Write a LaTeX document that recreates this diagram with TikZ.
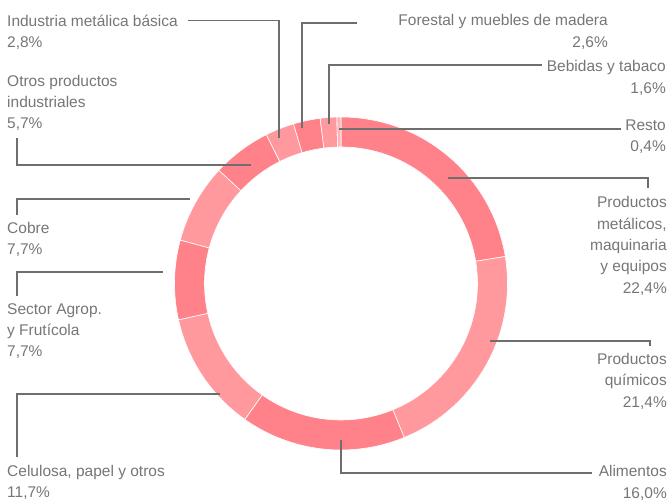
\documentclass[tikz,border=0pt]{standalone}
\usepackage{fontspec}
\setmainfont{Liberation Sans}
\definecolor{segdark}{HTML}{FF828A}
\definecolor{seglight}{HTML}{FF999E}
\definecolor{segpale}{HTML}{FFB4B8}
\definecolor{leadgray}{HTML}{6E6E6E}
\definecolor{labgray}{HTML}{767676}

\begin{document}
\begin{tikzpicture}[x=1pt,y=-1pt,
  lbl/.style={inner sep=0pt, text=labgray, font=\fontsize{15.5}{21.3}\selectfont},
  lblleft/.style={lbl, anchor=north west, align=left},
  lblright/.style={lbl, anchor=north east, align=right},
  leader/.style={draw=leadgray, line width=1.1pt}]
\useasboundingbox (0,0) rectangle (670,502);

\begin{scope}[shift={(341,283.5)}]
\foreach \a/\b/\c in {-90/-9.36/segdark, -9.36/67.68/seglight, 67.68/125.28/segdark,
  125.28/167.4/seglight, 167.4/195.12/segdark, 195.12/222.84/seglight,
  222.84/243.36/segdark, 243.36/253.44/seglight, 253.44/262.8/segdark,
  262.8/268.56/seglight, 268.56/270/segpale}
  \filldraw[fill=\c, draw=white, line width=0.6pt] (\a:166.5) arc[start angle=\a, end angle=\b, radius=166.5]
    -- (\b:136.5) arc[start angle=\b, end angle=\a, radius=136.5] -- cycle;
\end{scope}

\node[lblleft] (imb) at (7,11) {\strut Industria metálica básica\\2,8\%};
\node[lblleft] (otros) at (7,71) {\strut Otros productos\\industriales\\5,7\%};
\node[lblleft] (cobre) at (7,218.3) {\strut Cobre\\7,7\%};
\node[lblleft] (agro) at (7,299) {\strut Sector Agrop.\\y Frutícola\\7,7\%};
\node[lblleft] (celulosa) at (7,461) {\strut Celulosa, papel y otros\\11,7\%};
\node[lblright] (forestal) at (608,10.7) {\strut Forestal y muebles de madera\\2,6\%};
\node[lblright] (bebidas) at (666,56.7) {\strut Bebidas y tabaco\\1,6\%};
\node[lblright] (resto) at (666,115.5) {\strut Resto\\0,4\%};
\node[lblright] (metalicos) at (667,192.7) {\strut Productos\\metálicos,\\maquinaria\\y equipos\\22,4\%};
\node[lblright] (quimicos) at (667,349.3) {\strut Productos\\químicos\\21,4\%};
\node[lblright] (alimentos) at (667,461.7) {\strut Alimentos\\16,0\%};

\coordinate (imb-a) at (188,20.5);
\coordinate (imb-b) at (279,138);
\coordinate (forestal-a) at (357,23);
\coordinate (forestal-b) at (302,128);
\coordinate (bebidas-a) at (542,65);
\coordinate (bebidas-b) at (329,124);
\coordinate (resto-a) at (621,129);
\coordinate (resto-b) at (339,129);
\coordinate (metalicos-a) at (648,188);
\coordinate (metalicos-b) at (448,178);
\coordinate (quimicos-a) at (650,346);
\coordinate (quimicos-b) at (490,341);
\coordinate (alimentos-a) at (592,473);
\coordinate (alimentos-b) at (341,440);
\coordinate (celulosa-a) at (17,457);
\coordinate (celulosa-b) at (220,394);
\coordinate (agro-a) at (17,296);
\coordinate (agro-b) at (163,272);
\coordinate (cobre-a) at (17,215);
\coordinate (cobre-b) at (190,199);
\coordinate (otros-a) at (17,138);
\coordinate (otros-b) at (251,165);

\draw[leader] (imb-a) -| (imb-b);
\draw[leader] (forestal-b) |- (forestal-a);
\draw[leader] (bebidas-b) |- (bebidas-a);
\draw[leader] (resto-b) -- (resto-a);
\draw[leader] (metalicos-b) -| (metalicos-a);
\draw[leader] (quimicos-b) -| (quimicos-a);
\draw[leader] (alimentos-b) |- (alimentos-a);
\draw[leader] (celulosa-b) -| (celulosa-a);
\draw[leader] (agro-b) -| (agro-a);
\draw[leader] (cobre-b) -| (cobre-a);
\draw[leader] (otros-b) -| (otros-a);
\end{tikzpicture}
\end{document}
